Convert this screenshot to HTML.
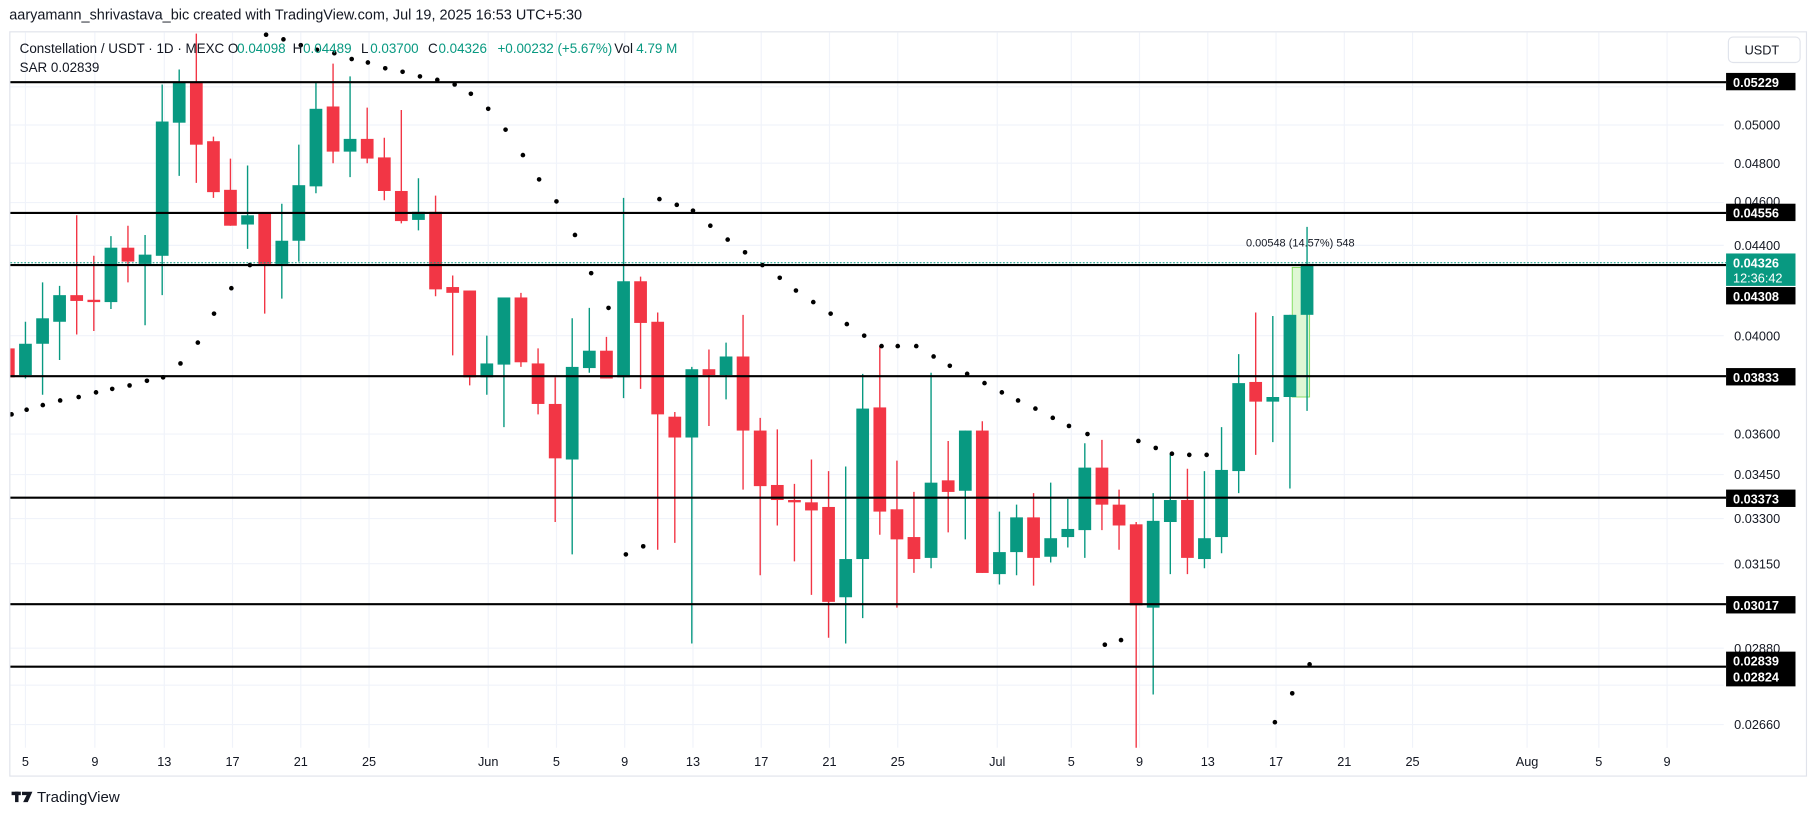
<!DOCTYPE html>
<html><head><meta charset="utf-8"><style>
html,body{margin:0;padding:0;background:#fff;}
svg{display:block;}
text{font-family:"Liberation Sans",sans-serif;}
</style></head><body>
<svg width="1814" height="816" viewBox="0 0 1568 705" preserveAspectRatio="none" xmlns="http://www.w3.org/2000/svg">
<defs><clipPath id="pc"><rect x="9" y="28" width="1481" height="618"/></clipPath></defs>
<rect width="1568" height="705" fill="#fff"/>
<text x="8" y="17" font-size="12.5" fill="#131722">aaryamann_shrivastava_bic created with TradingView.com, Jul 19, 2025 16:53 UTC+5:30</text>
<rect x="8.5" y="27.5" width="1553" height="643" fill="none" stroke="#e0e3eb"/>
<g stroke="#f0f3fa" stroke-width="1">
<path d="M9 75H1490M9 108H1490M9 141H1490M9 175H1490M9 212H1490M9 290H1490M9 325H1490M9 375H1490M9 410H1490M9 448H1490M9 487H1490M9 522H1490M9 560H1490M9 592H1490M9 626H1490"/>
<path d="M22 28V646M82 28V646M142 28V646M201 28V646M260 28V646M319 28V646M422 28V646M481 28V646M540 28V646M599 28V646M658 28V646M717 28V646M776 28V646M862 28V646M926 28V646M985 28V646M1044 28V646M1103 28V646M1162 28V646M1221 28V646M1320 28V646M1382 28V646M1441 28V646"/>
</g>
<g clip-path="url(#pc)">
<rect x="1117" y="231" width="15" height="112" fill="#dff7d4" stroke="#7ddc5a" stroke-width="0.8"/>
<g stroke="#f23645" stroke-width="1.2">
<path d="M7.2 298V330M66.3 186V289M81.1 221V286M110.6 195V244M169.7 29V158M184.5 118V171M199.2 137V195M228.8 184V271M287.9 55V141M317.4 93V141M332.2 119V173M346.9 95V193M376.5 169V256M391.3 238V307M406 251V333M450.3 253V317M465.1 301V358M479.9 326V451M524.2 291V327M553.7 239V336M568.5 270V475M583.3 356V469M612.8 302V368M642.3 272V423M657.1 361V497M671.9 371V454M686.7 418V485M701.4 397V514M716.2 407V551M760.5 299V462M775.3 398V525M790 425V495M819.6 381V460M849.1 364V495M893.4 426V506M952.5 380V458M967.3 423V475M982.1 451V647M1026.4 405V496M1085.4 270V393"/>
</g>
<g fill="#f23645">
<rect x="1.7" y="301" width="11" height="25"/><rect x="60.8" y="255" width="11" height="5"/><rect x="75.6" y="259" width="11" height="2"/><rect x="105.1" y="214" width="11" height="12"/><rect x="164.2" y="71" width="11" height="54"/><rect x="179" y="122" width="11" height="44"/><rect x="193.7" y="164" width="11" height="31"/><rect x="223.3" y="184" width="11" height="44"/><rect x="282.4" y="92" width="11" height="39"/><rect x="311.9" y="120" width="11" height="17"/><rect x="326.7" y="136" width="11" height="29"/><rect x="341.4" y="165" width="11" height="26"/><rect x="371" y="183" width="11" height="67"/><rect x="385.8" y="248" width="11" height="5"/><rect x="400.5" y="251" width="11" height="75"/><rect x="444.8" y="257" width="11" height="56"/><rect x="459.6" y="314" width="11" height="35"/><rect x="474.4" y="349" width="11" height="47"/><rect x="518.7" y="303" width="11" height="24"/><rect x="548.2" y="243" width="11" height="36"/><rect x="563" y="278" width="11" height="80"/><rect x="577.8" y="360" width="11" height="18"/><rect x="607.3" y="319" width="11" height="5"/><rect x="636.8" y="308" width="11" height="64"/><rect x="651.6" y="372" width="11" height="48"/><rect x="666.4" y="419" width="11" height="13"/><rect x="681.2" y="432" width="11" height="2"/><rect x="695.9" y="434" width="11" height="7"/><rect x="710.7" y="438" width="11" height="82"/><rect x="755" y="352" width="11" height="90"/><rect x="769.8" y="440" width="11" height="26"/><rect x="784.5" y="464" width="11" height="19"/><rect x="814.1" y="415" width="11" height="10"/><rect x="843.6" y="372" width="11" height="123"/><rect x="887.9" y="447" width="11" height="35"/><rect x="947" y="404" width="11" height="32"/><rect x="961.8" y="436" width="11" height="18"/><rect x="976.6" y="453" width="11" height="70"/><rect x="1020.9" y="432" width="11" height="50"/><rect x="1079.9" y="330" width="11" height="17"/>
</g>
<g stroke="#089981" stroke-width="1.2">
<path d="M22 278V327M36.8 244V341M51.5 247V311M95.9 204V267M125.4 203V281M140.2 73V255M154.9 60V152M214 143V215M243.6 176V258M258.3 125V226M273.1 71V167M302.6 66V153M361.7 154V199M420.8 290V341M435.6 257V369M494.6 275V479M509.4 266V322M539 171V344M598 317V556M627.6 296V345M731 403V556M745.7 323V534M804.8 322V491M834.4 372V466M863.9 442V505M878.7 436V497M908.2 417V486M923 431V473M937.7 383V482M996.8 426V600M1011.6 392V496M1041.1 407V491M1055.9 369V478M1070.7 306V426M1100.2 273V382M1115 272V422M1129.8 196V355"/>
</g>
<g fill="#089981">
<rect x="16.5" y="297" width="11" height="27"/><rect x="31.3" y="275" width="11" height="22"/><rect x="46" y="255" width="11" height="23"/><rect x="90.4" y="214" width="11" height="47"/><rect x="119.9" y="220" width="11" height="8"/><rect x="134.7" y="105" width="11" height="116"/><rect x="149.4" y="71" width="11" height="35"/><rect x="208.5" y="186" width="11" height="8"/><rect x="238.1" y="208" width="11" height="20"/><rect x="252.8" y="160" width="11" height="48"/><rect x="267.6" y="94" width="11" height="67"/><rect x="297.1" y="120" width="11" height="11"/><rect x="356.2" y="183" width="11" height="7"/><rect x="415.3" y="314" width="11" height="12"/><rect x="430.1" y="257" width="11" height="58"/><rect x="489.1" y="317" width="11" height="80"/><rect x="503.9" y="303" width="11" height="15"/><rect x="533.5" y="243" width="11" height="83"/><rect x="592.5" y="319" width="11" height="59"/><rect x="622.1" y="308" width="11" height="16"/><rect x="725.5" y="483" width="11" height="33"/><rect x="740.2" y="353" width="11" height="130"/><rect x="799.3" y="417" width="11" height="65"/><rect x="828.9" y="372" width="11" height="52"/><rect x="858.4" y="477" width="11" height="19"/><rect x="873.2" y="447" width="11" height="30"/><rect x="902.7" y="465" width="11" height="16"/><rect x="917.5" y="457" width="11" height="7"/><rect x="932.2" y="404" width="11" height="54"/><rect x="991.3" y="450" width="11" height="75"/><rect x="1006.1" y="432" width="11" height="19"/><rect x="1035.6" y="465" width="11" height="18"/><rect x="1050.4" y="406" width="11" height="58"/><rect x="1065.2" y="331" width="11" height="76"/><rect x="1094.7" y="343" width="11" height="4"/><rect x="1109.5" y="272" width="11" height="71"/><rect x="1124.3" y="228" width="11" height="44"/>
</g>
<g fill="#000">
<circle cx="10" cy="358" r="2"/><circle cx="23" cy="354" r="2"/><circle cx="37" cy="350" r="2"/><circle cx="52" cy="346" r="2"/><circle cx="68" cy="343" r="2"/><circle cx="83" cy="339" r="2"/><circle cx="97" cy="336" r="2"/><circle cx="112" cy="333" r="2"/><circle cx="127" cy="329" r="2"/><circle cx="141" cy="326" r="2"/><circle cx="156" cy="314" r="2"/><circle cx="171" cy="296" r="2"/><circle cx="185" cy="271" r="2"/><circle cx="200" cy="249" r="2"/><circle cx="216" cy="229" r="2"/><circle cx="230" cy="30" r="2"/><circle cx="245" cy="34" r="2"/><circle cx="260" cy="39" r="2"/><circle cx="274" cy="43" r="2"/><circle cx="289" cy="46" r="2"/><circle cx="304" cy="51" r="2"/><circle cx="318" cy="54" r="2"/><circle cx="333" cy="59" r="2"/><circle cx="348" cy="62" r="2"/><circle cx="363" cy="66" r="2"/><circle cx="378" cy="69" r="2"/><circle cx="393" cy="73" r="2"/><circle cx="407" cy="81" r="2"/><circle cx="422" cy="94" r="2"/><circle cx="437" cy="112" r="2"/><circle cx="452" cy="134" r="2"/><circle cx="466" cy="155" r="2"/><circle cx="481" cy="174" r="2"/><circle cx="497" cy="203" r="2"/><circle cx="511" cy="236" r="2"/><circle cx="526" cy="266" r="2"/><circle cx="541" cy="479" r="2"/><circle cx="556" cy="472" r="2"/><circle cx="570" cy="172" r="2"/><circle cx="585" cy="177" r="2"/><circle cx="599" cy="182" r="2"/><circle cx="614" cy="195" r="2"/><circle cx="629" cy="207" r="2"/><circle cx="644" cy="218" r="2"/><circle cx="659" cy="229" r="2"/><circle cx="674" cy="240" r="2"/><circle cx="688" cy="251" r="2"/><circle cx="703" cy="261" r="2"/><circle cx="718" cy="271" r="2"/><circle cx="732" cy="280" r="2"/><circle cx="747" cy="290" r="2"/><circle cx="762" cy="299" r="2"/><circle cx="776" cy="299" r="2"/><circle cx="792" cy="299" r="2"/><circle cx="807" cy="308" r="2"/><circle cx="821" cy="316" r="2"/><circle cx="836" cy="323" r="2"/><circle cx="851" cy="331" r="2"/><circle cx="866" cy="339" r="2"/><circle cx="880" cy="346" r="2"/><circle cx="895" cy="353" r="2"/><circle cx="910" cy="361" r="2"/><circle cx="924" cy="368" r="2"/><circle cx="940" cy="375" r="2"/><circle cx="955" cy="557" r="2"/><circle cx="969" cy="553" r="2"/><circle cx="984" cy="381" r="2"/><circle cx="999" cy="387" r="2"/><circle cx="1013" cy="392" r="2"/><circle cx="1028" cy="393" r="2"/><circle cx="1043" cy="393" r="2"/><circle cx="1102" cy="624" r="2"/><circle cx="1117" cy="599" r="2"/><circle cx="1132" cy="574" r="2"/>
</g>
</g>
<path d="M9 227H1492" stroke="#089981" stroke-width="0.8" stroke-dasharray="1.5 1.5"/>
<g stroke="#000" stroke-width="1.8">
<path d="M9 71H1492M9 184H1492M9 229H1492M9 325H1492M9 430H1492M9 522H1492M9 576H1492"/>
</g>
<text x="1077" y="213" font-size="9.5" fill="#131722">0.00548 (14.57%) 548</text>
<g font-size="11.6" fill="#131722">
<text x="17" y="46">Constellation / USDT · 1D · MEXC</text>
<text x="197" y="46">O</text><text x="205" y="46" fill="#089981">0.04098</text>
<text x="253" y="46">H</text><text x="262" y="46" fill="#089981">0.04489</text>
<text x="312" y="46">L</text><text x="320" y="46" fill="#089981">0.03700</text>
<text x="370" y="46">C</text><text x="379" y="46" fill="#089981">0.04326</text>
<text x="430" y="46" fill="#089981">+0.00232 (+5.67%)</text>
<text x="531" y="46">Vol</text><text x="550" y="46" fill="#089981">4.79 M</text>
<text x="17" y="62">SAR  0.02839</text>
</g>
<rect x="1494" y="32" width="62" height="22" rx="4" fill="#fff" stroke="#e0e3eb"/>
<text x="1508" y="47" font-size="11" fill="#131722">USDT</text>
<g font-size="11" fill="#131722">
<text x="1499" y="112">0.05000</text><text x="1499" y="145">0.04800</text><text x="1499" y="178">0.04600</text><text x="1499" y="216">0.04400</text><text x="1499" y="294">0.04000</text><text x="1499" y="379">0.03600</text><text x="1499" y="414">0.03450</text><text x="1499" y="452">0.03300</text><text x="1499" y="491">0.03150</text><text x="1499" y="564">0.02880</text><text x="1499" y="630">0.02660</text>
</g>
<g fill="#000"><rect x="1492" y="63" width="60" height="15"/><rect x="1492" y="176" width="60" height="15"/><rect x="1492" y="248" width="60" height="15"/><rect x="1492" y="318" width="60" height="15"/><rect x="1492" y="423" width="60" height="15"/><rect x="1492" y="515" width="60" height="15"/><rect x="1492" y="563" width="60" height="30"/></g>
<rect x="1492" y="219" width="60" height="28" fill="#089981"/>
<g font-size="11" fill="#fff" font-weight="bold">
<text x="1498" y="75">0.05229</text><text x="1498" y="188">0.04556</text><text x="1498" y="260">0.04308</text><text x="1498" y="330">0.03833</text><text x="1498" y="435">0.03373</text><text x="1498" y="527">0.03017</text><text x="1498" y="575">0.02839</text><text x="1498" y="589">0.02824</text>
<text x="1498" y="231">0.04326</text><text x="1498" y="244" font-weight="normal">12:36:42</text>
</g>
<g font-size="11" fill="#131722" text-anchor="middle">
<text x="22" y="662">5</text><text x="82" y="662">9</text><text x="142" y="662">13</text><text x="201" y="662">17</text><text x="260" y="662">21</text><text x="319" y="662">25</text><text x="422" y="662">Jun</text><text x="481" y="662">5</text><text x="540" y="662">9</text><text x="599" y="662">13</text><text x="658" y="662">17</text><text x="717" y="662">21</text><text x="776" y="662">25</text><text x="862" y="662">Jul</text><text x="926" y="662">5</text><text x="985" y="662">9</text><text x="1044" y="662">13</text><text x="1103" y="662">17</text><text x="1162" y="662">21</text><text x="1221" y="662">25</text><text x="1320" y="662">Aug</text><text x="1382" y="662">5</text><text x="1441" y="662">9</text>
</g>
<g fill="#131722"><rect x="10" y="684" width="8" height="3"/><rect x="13" y="684" width="3" height="9"/><path d="M19 684H28L24 693H20L23 687H19Z"/></g>
<text x="32" y="693" font-size="13" fill="#131722">TradingView</text>
</svg>
</body></html>
